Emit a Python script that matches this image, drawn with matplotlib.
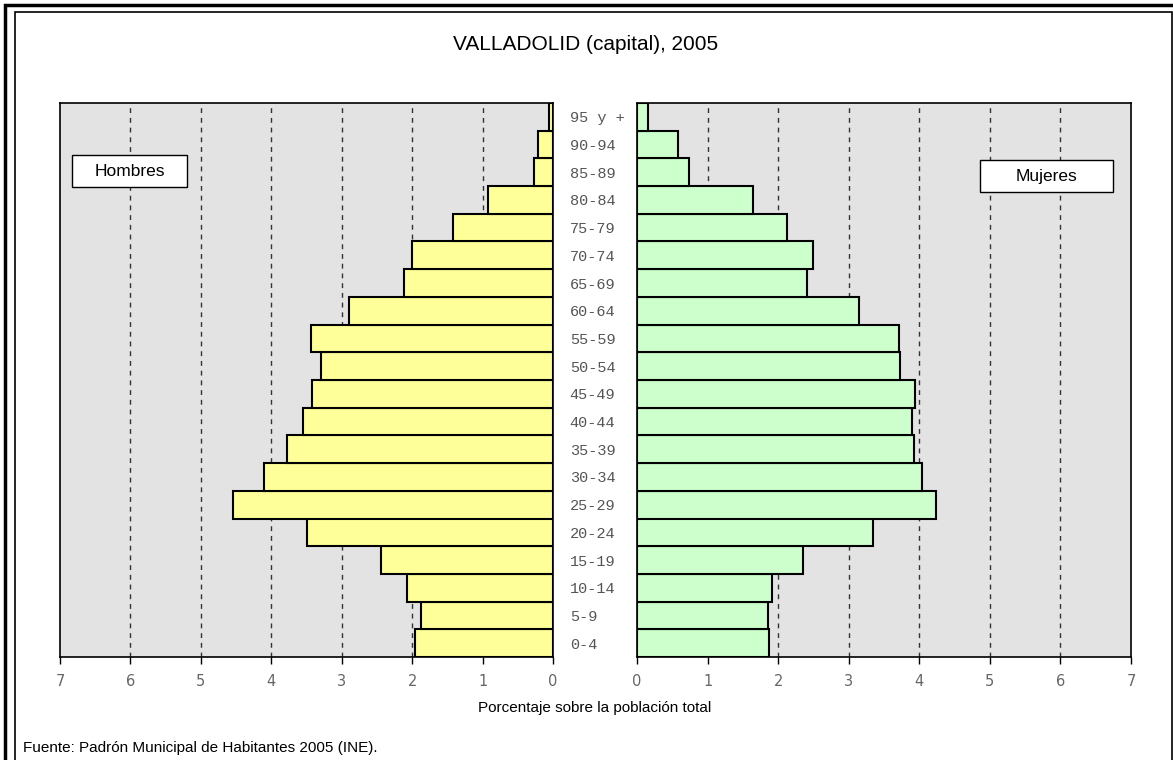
import matplotlib.pyplot as plt
from matplotlib.patches import Rectangle
import numpy as np

grupos = ["0-4", "5-9", "10-14", "15-19", "20-24", "25-29", "30-34", "35-39",
          "40-44", "45-49", "50-54", "55-59", "60-64", "65-69", "70-74",
          "75-79", "80-84", "85-89", "90-94", "95 y +"]
hombres = [1.96, 1.87, 2.08, 2.44, 3.50, 4.54, 4.10, 3.77, 3.55, 3.42,
           3.29, 3.44, 2.89, 2.12, 2.00, 1.42, 0.92, 0.27, 0.22, 0.05]
mujeres = [1.87, 1.85, 1.92, 2.35, 3.34, 4.23, 4.04, 3.93, 3.90, 3.94,
           3.72, 3.71, 3.14, 2.41, 2.50, 2.12, 1.64, 0.74, 0.58, 0.16]
ticks = [0, 1, 2, 3, 4, 5, 6, 7]

W, H = 1173, 760
fig = plt.figure(figsize=(W / 100, H / 100), dpi=100)
fig.patch.set_facecolor("white")

def fx(px):
    return px / W

def fy(py):
    return 1 - py / H

def caja(x0, y0, x1, y1, texto):
    # recuadro blanco con texto centrado, coordenadas en pixeles
    fig.patches.append(Rectangle((fx(x0), fy(y1)), fx(x1 - x0), (y1 - y0) / H,
                                 transform=fig.transFigure, fc="white", ec="black",
                                 lw=1, zorder=5))
    fig.text(fx((x0 + x1) / 2), fy((y0 + y1) / 2), texto, fontsize=12.5,
             family="Liberation Sans", ha="center", va="center", zorder=6)

# marco doble
fig.patches.append(Rectangle((fx(5), fy(900)), fx(1300), 895 / H, transform=fig.transFigure,
                             fill=False, edgecolor="black", lw=2.5))
fig.patches.append(Rectangle((fx(15), fy(900)), fx(1157), 888 / H, transform=fig.transFigure,
                             fill=False, edgecolor="black", lw=1.2))

ax_l = fig.add_axes([fx(60), fy(657), fx(553 - 60), (657 - 103) / H])
ax_r = fig.add_axes([fx(637), fy(657), fx(1131 - 637), (657 - 103) / H])

y = np.arange(len(grupos))

for ax, vals, col in [(ax_l, hombres, "#FFFF99"), (ax_r, mujeres, "#CCFFCC")]:
    ax.set_facecolor("#E3E3E3")
    ax.barh(y, vals, height=1.0, color=col, edgecolor="black", linewidth=1.5, zorder=3)
    ax.set_xlim(0, 7)
    ax.set_ylim(-0.5, len(grupos) - 0.5)
    ax.set_xticks(ticks)
    ax.set_xticklabels([str(t) for t in ticks], color="#666666", fontsize=10.5)
    ax.tick_params(axis="x", direction="out", length=5, width=1, pad=7)
    for g in ticks[1:-1]:
        ax.axvline(g, color="#333333", lw=1, linestyle=(0, (3.5, 3.5)), zorder=1)
    for s in ax.spines.values():
        s.set_linewidth(1.2)
        s.set_color("black")

ax_l.invert_xaxis()
ax_l.set_yticks(y)
ax_l.set_yticklabels(grupos, family="Liberation Mono", fontsize=11, color="#555555")
ax_l.yaxis.tick_right()
ax_l.tick_params(axis="y", length=0, pad=12)
ax_r.set_yticks([])

caja(72, 155, 187, 187, "Hombres")
caja(980, 160, 1113, 192, "Mujeres")

fig.text(fx(586), fy(45), "VALLADOLID (capital), 2005", fontsize=15,
         family="Liberation Sans", ha="center", va="center")
fig.text(fx(595), fy(708), "Porcentaje sobre la población total", fontsize=11,
         family="Liberation Sans", ha="center", va="center")
fig.text(fx(23), fy(748), "Fuente: Padrón Municipal de Habitantes 2005 (INE).", fontsize=11,
         family="Liberation Sans", ha="left", va="center")

fig.savefig("out.png", dpi=100)
